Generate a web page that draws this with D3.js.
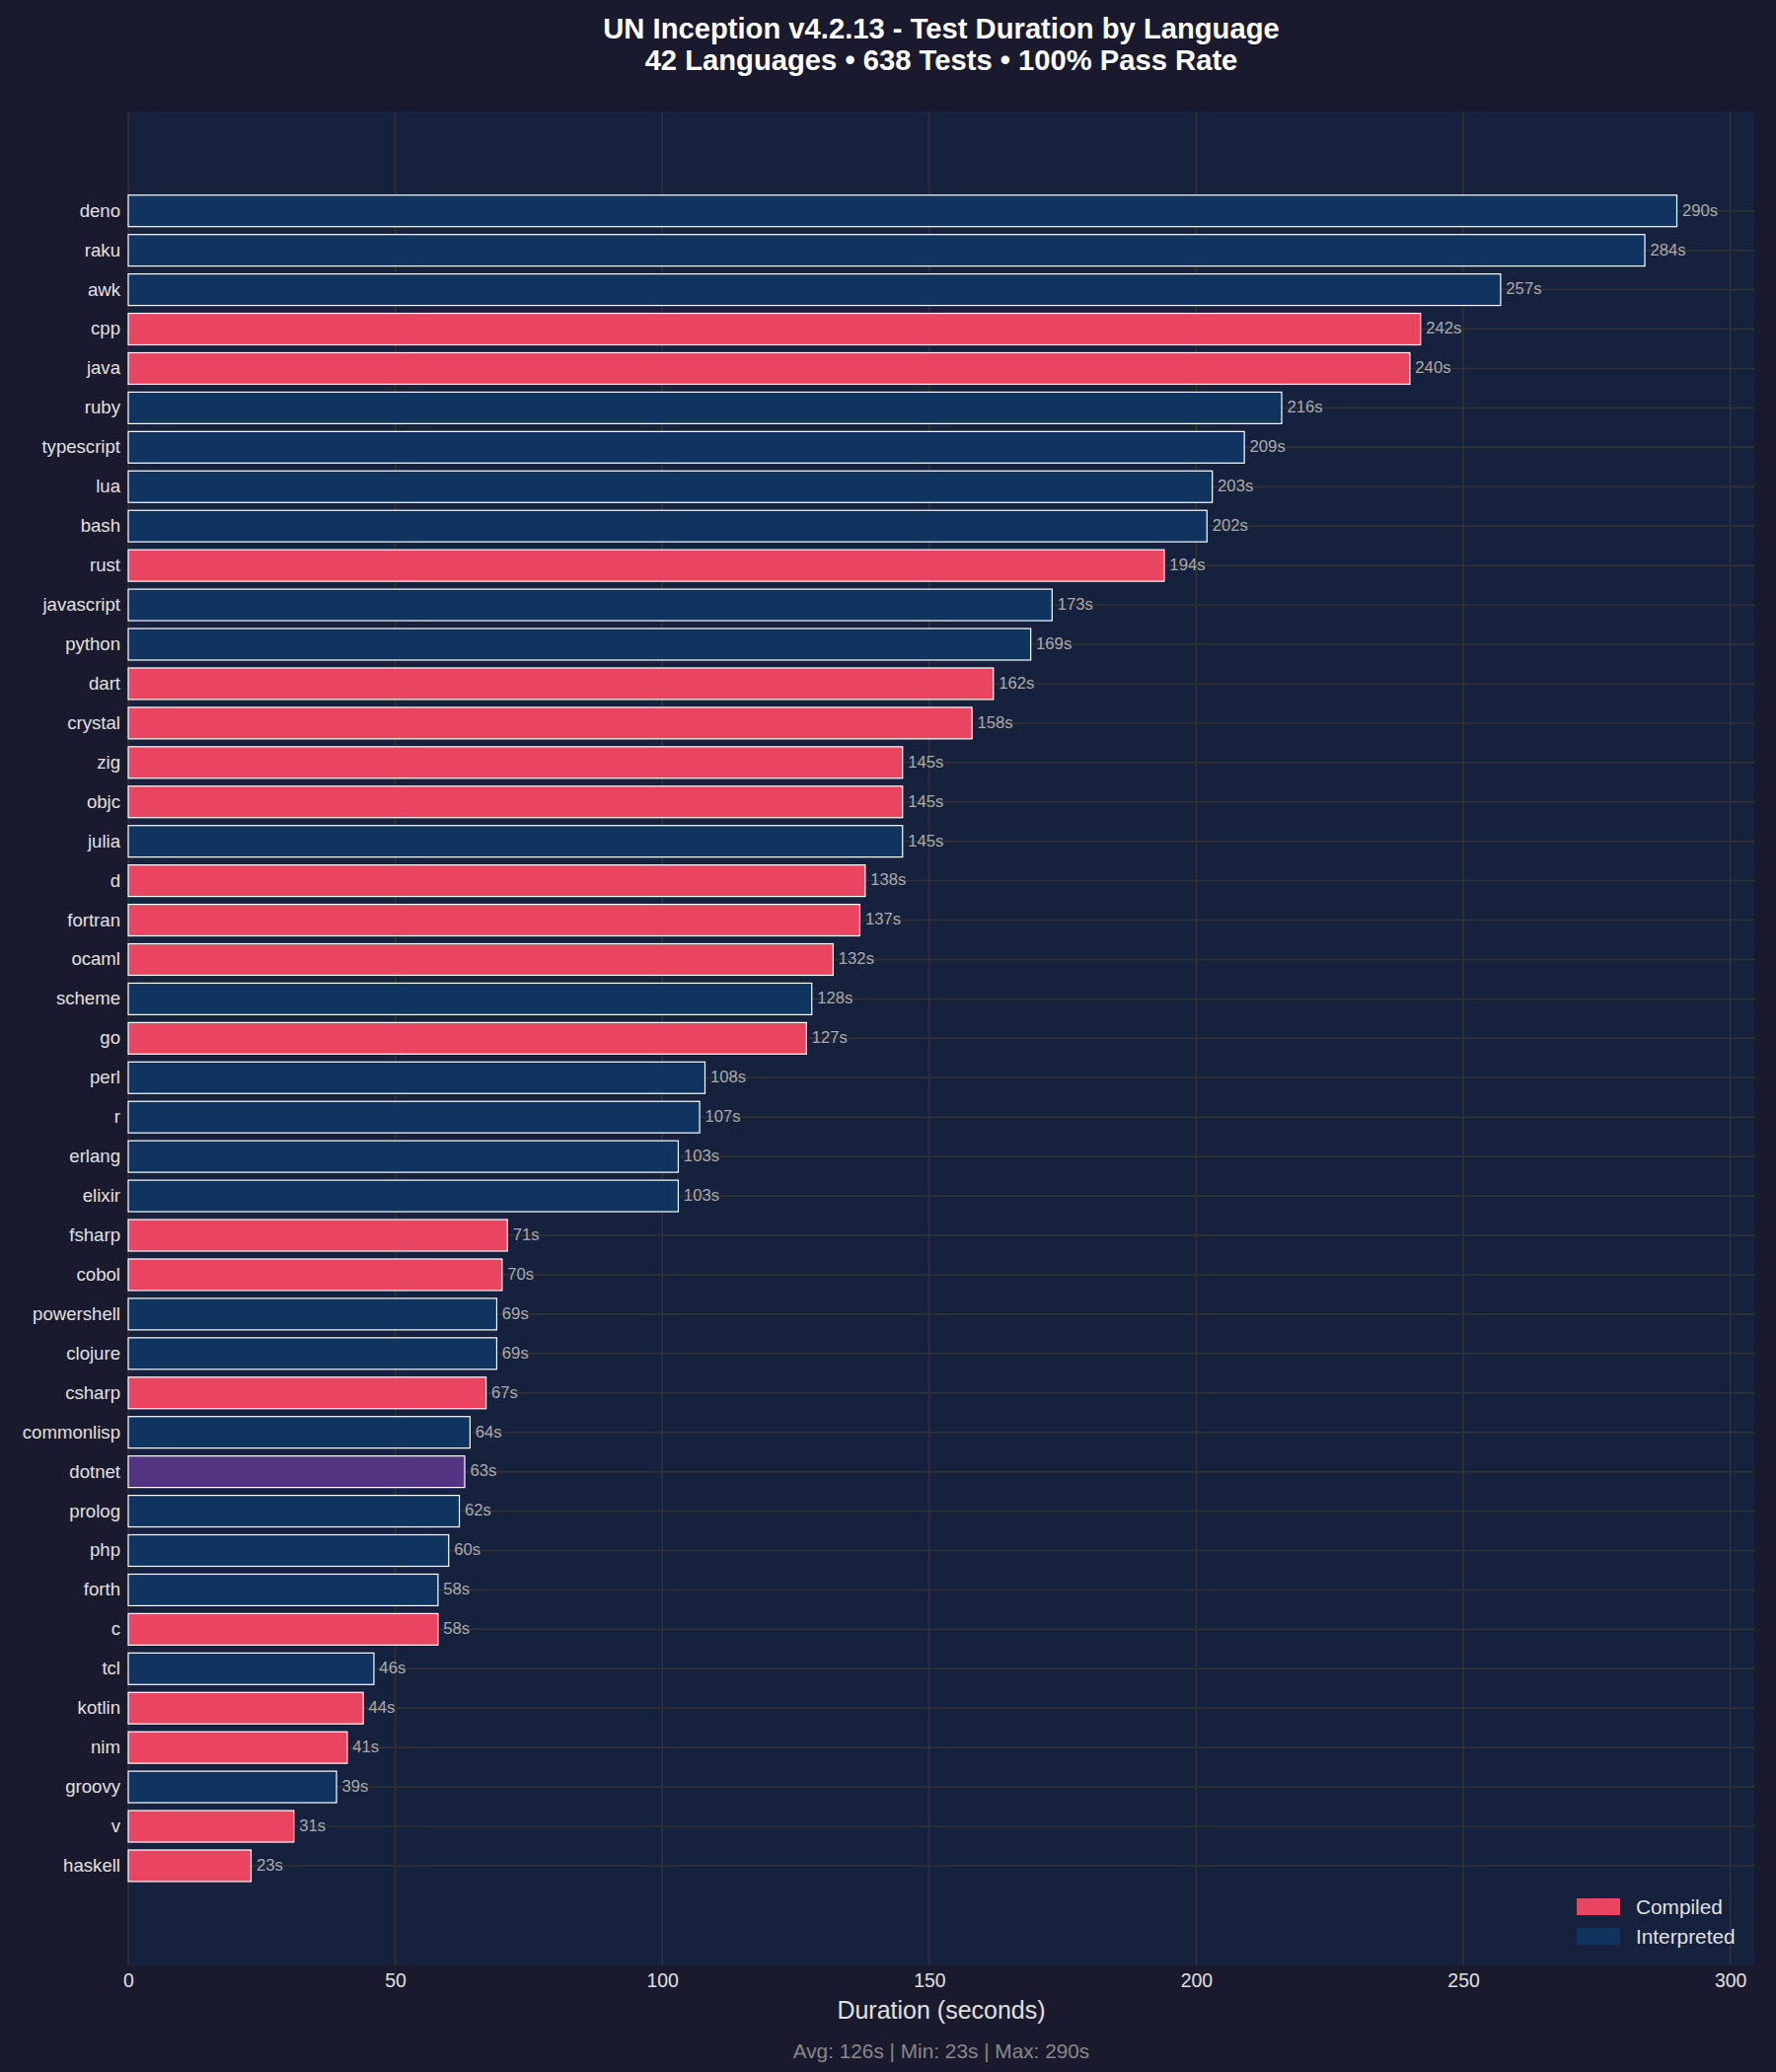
<!DOCTYPE html>
<html>
<head>
<meta charset="utf-8">
<title>UN Inception - Test Duration by Language</title>
<style>
    body { margin: 0; background: #1a1a2e; }
    svg { display: block; font-family: "Liberation Sans", Arial, sans-serif; }
</style>
</head>
<body>
<svg width="1800" height="2100"></svg>

<script src="https://cdn.jsdelivr.net/npm/d3@7"></script>
<script>

// data, sorted longest first
var languages = ['deno','raku','awk','cpp','java','ruby','typescript','lua','bash','rust',
    'javascript','python','dart','crystal','zig','objc','julia','d','fortran','ocaml',
    'scheme','go','perl','r','erlang','elixir','fsharp','cobol','powershell','clojure',
    'csharp','commonlisp','dotnet','prolog','php','forth','c','tcl','kotlin','nim',
    'groovy','v','haskell'];
var durations = [290,284,257,242,240,216,209,203,202,194,
    173,169,162,158,145,145,145,138,137,132,
    128,127,108,107,103,103,71,70,69,69,
    67,64,63,62,60,58,58,46,44,41,
    39,31,23];
// C = compiled, I = interpreted, H = hybrid (dotnet)
var kinds = ['I','I','I','C','C','I','I','I','I','C',
    'I','I','C','C','C','C','I','C','C','C',
    'I','C','I','I','I','I','C','C','I','I',
    'C','I','H','I','I','I','C','I','C','C',
    'I','C','C'];
var xTicks = [0, 50, 100, 150, 200, 250, 300];
var legendItems = [{label: 'Compiled', kind: 'C'}, {label: 'Interpreted', kind: 'I'}];

var colors = {C: '#e94560', I: '#0f3460', H: '#533483'};

var rows = languages.map(function(l, i) {
    return {lang: l, dur: durations[i], kind: kinds[i]};
});

var W = 1800, H = 2100;
// note: "top" is taken by window.top, so use plot* names
var plotL = 130, plotR = 1778, plotT = 112.7, plotB = 1992;

var svg = d3.select('svg');
svg.append('rect').attr('width', W).attr('height', H).attr('fill', '#1a1a2e');

var x = d3.scaleLinear().domain([0, 304.5]).range([plotL, plotR]);
var y = d3.scaleBand().domain(languages).range([plotT, plotB])
    .paddingInner(0.2).paddingOuter(2.13).align(0.5);

// plot background
svg.append('rect')
    .attr('x', plotL).attr('y', plotT)
    .attr('width', plotR - plotL).attr('height', plotB - plotT)
    .attr('fill', '#16213e');

var grid = svg.append('g');
grid.selectAll('line.vx').data(xTicks).enter().append('line')
    .attr('x1', function(d) { return x(d); }).attr('x2', function(d) { return x(d); })
    .attr('y1', plotT).attr('y2', plotB)
    .attr('stroke', '#333').attr('stroke-width', 1.5);
grid.selectAll('line.hy').data(languages).enter().append('line')
    .attr('x1', plotL).attr('x2', plotR)
    .attr('y1', function(d) { return y(d) + y.bandwidth() / 2; })
    .attr('y2', function(d) { return y(d) + y.bandwidth() / 2; })
    .attr('stroke', '#333').attr('stroke-width', 1.5);

// bars
svg.append('g').selectAll('rect').data(rows).enter().append('rect')
    .attr('x', x(0))
    .attr('y', function(d) { return y(d.lang); })
    .attr('width', function(d) { return x(d.dur) - x(0); })
    .attr('height', y.bandwidth())
    .attr('fill', function(d) { return colors[d.kind]; })
    .attr('stroke', '#ffffff').attr('stroke-width', 1.2);

// value labels
svg.append('g').selectAll('text').data(rows).enter().append('text')
    .attr('x', function(d) { return x(d.dur + 1); })
    .attr('y', function(d) { return y(d.lang) + y.bandwidth() / 2 - 1; })
    .attr('dy', '0.35em')
    .attr('font-size', 16.7)
    .attr('fill', '#aaaaaa')
    .text(function(d) { return d.dur + 's'; });

// axes
var yAxis = svg.append('g').attr('transform', 'translate(' + plotL + ',0)')
    .call(d3.axisLeft(y).tickSize(0).tickPadding(8));
yAxis.select('.domain').remove();
yAxis.selectAll('text').attr('font-size', 18.6).attr('fill', '#e0e0e0')
    .attr('font-family', '"Liberation Sans", Arial, sans-serif');

var xAxis = svg.append('g').attr('transform', 'translate(0,' + plotB + ')')
    .call(d3.axisBottom(x).tickValues(xTicks).tickSize(0).tickPadding(8));
xAxis.select('.domain').remove();
xAxis.selectAll('text').attr('font-size', 19.4).attr('fill', '#e0e0e0')
    .attr('font-family', '"Liberation Sans", Arial, sans-serif');

var cx = (plotL + plotR) / 2;

svg.append('text')
    .attr('x', cx).attr('y', 2046)
    .attr('text-anchor', 'middle').attr('font-size', 25).attr('fill', '#e0e0e0')
    .text('Duration (seconds)');

// title
svg.append('text')
    .attr('x', cx).attr('y', 38.5)
    .attr('text-anchor', 'middle').attr('font-size', 29.2).attr('font-weight', 'bold').attr('fill', '#ffffff')
    .text('UN Inception v4.2.13 - Test Duration by Language');
svg.append('text')
    .attr('x', cx).attr('y', 71)
    .attr('text-anchor', 'middle').attr('font-size', 29.2).attr('font-weight', 'bold').attr('fill', '#ffffff')
    .text('42 Languages \u2022 638 Tests \u2022 100% Pass Rate');

// footer stats (mean truncated, as in the source)
var avg = Math.floor(d3.mean(durations));
svg.append('text')
    .attr('x', cx).attr('y', 2086)
    .attr('text-anchor', 'middle').attr('font-size', 20.8).attr('fill', '#888888')
    .text('Avg: ' + avg + 's | Min: ' + d3.min(durations) + 's | Max: ' + d3.max(durations) + 's');

// legend
var lg = svg.append('g').attr('transform', 'translate(1598,1924)');
var li = lg.selectAll('g').data(legendItems).enter().append('g')
    .attr('transform', function(d, i) { return 'translate(0,' + (i * 30) + ')'; });
li.append('rect').attr('width', 44).attr('height', 17)
    .attr('fill', function(d) { return colors[d.kind]; });
li.append('text').attr('x', 60).attr('y', 8.5).attr('dy', '0.35em')
    .attr('font-size', 20.8).attr('fill', '#e0e0e0')
    .text(function(d) { return d.label; });

</script>
</body>
</html>
